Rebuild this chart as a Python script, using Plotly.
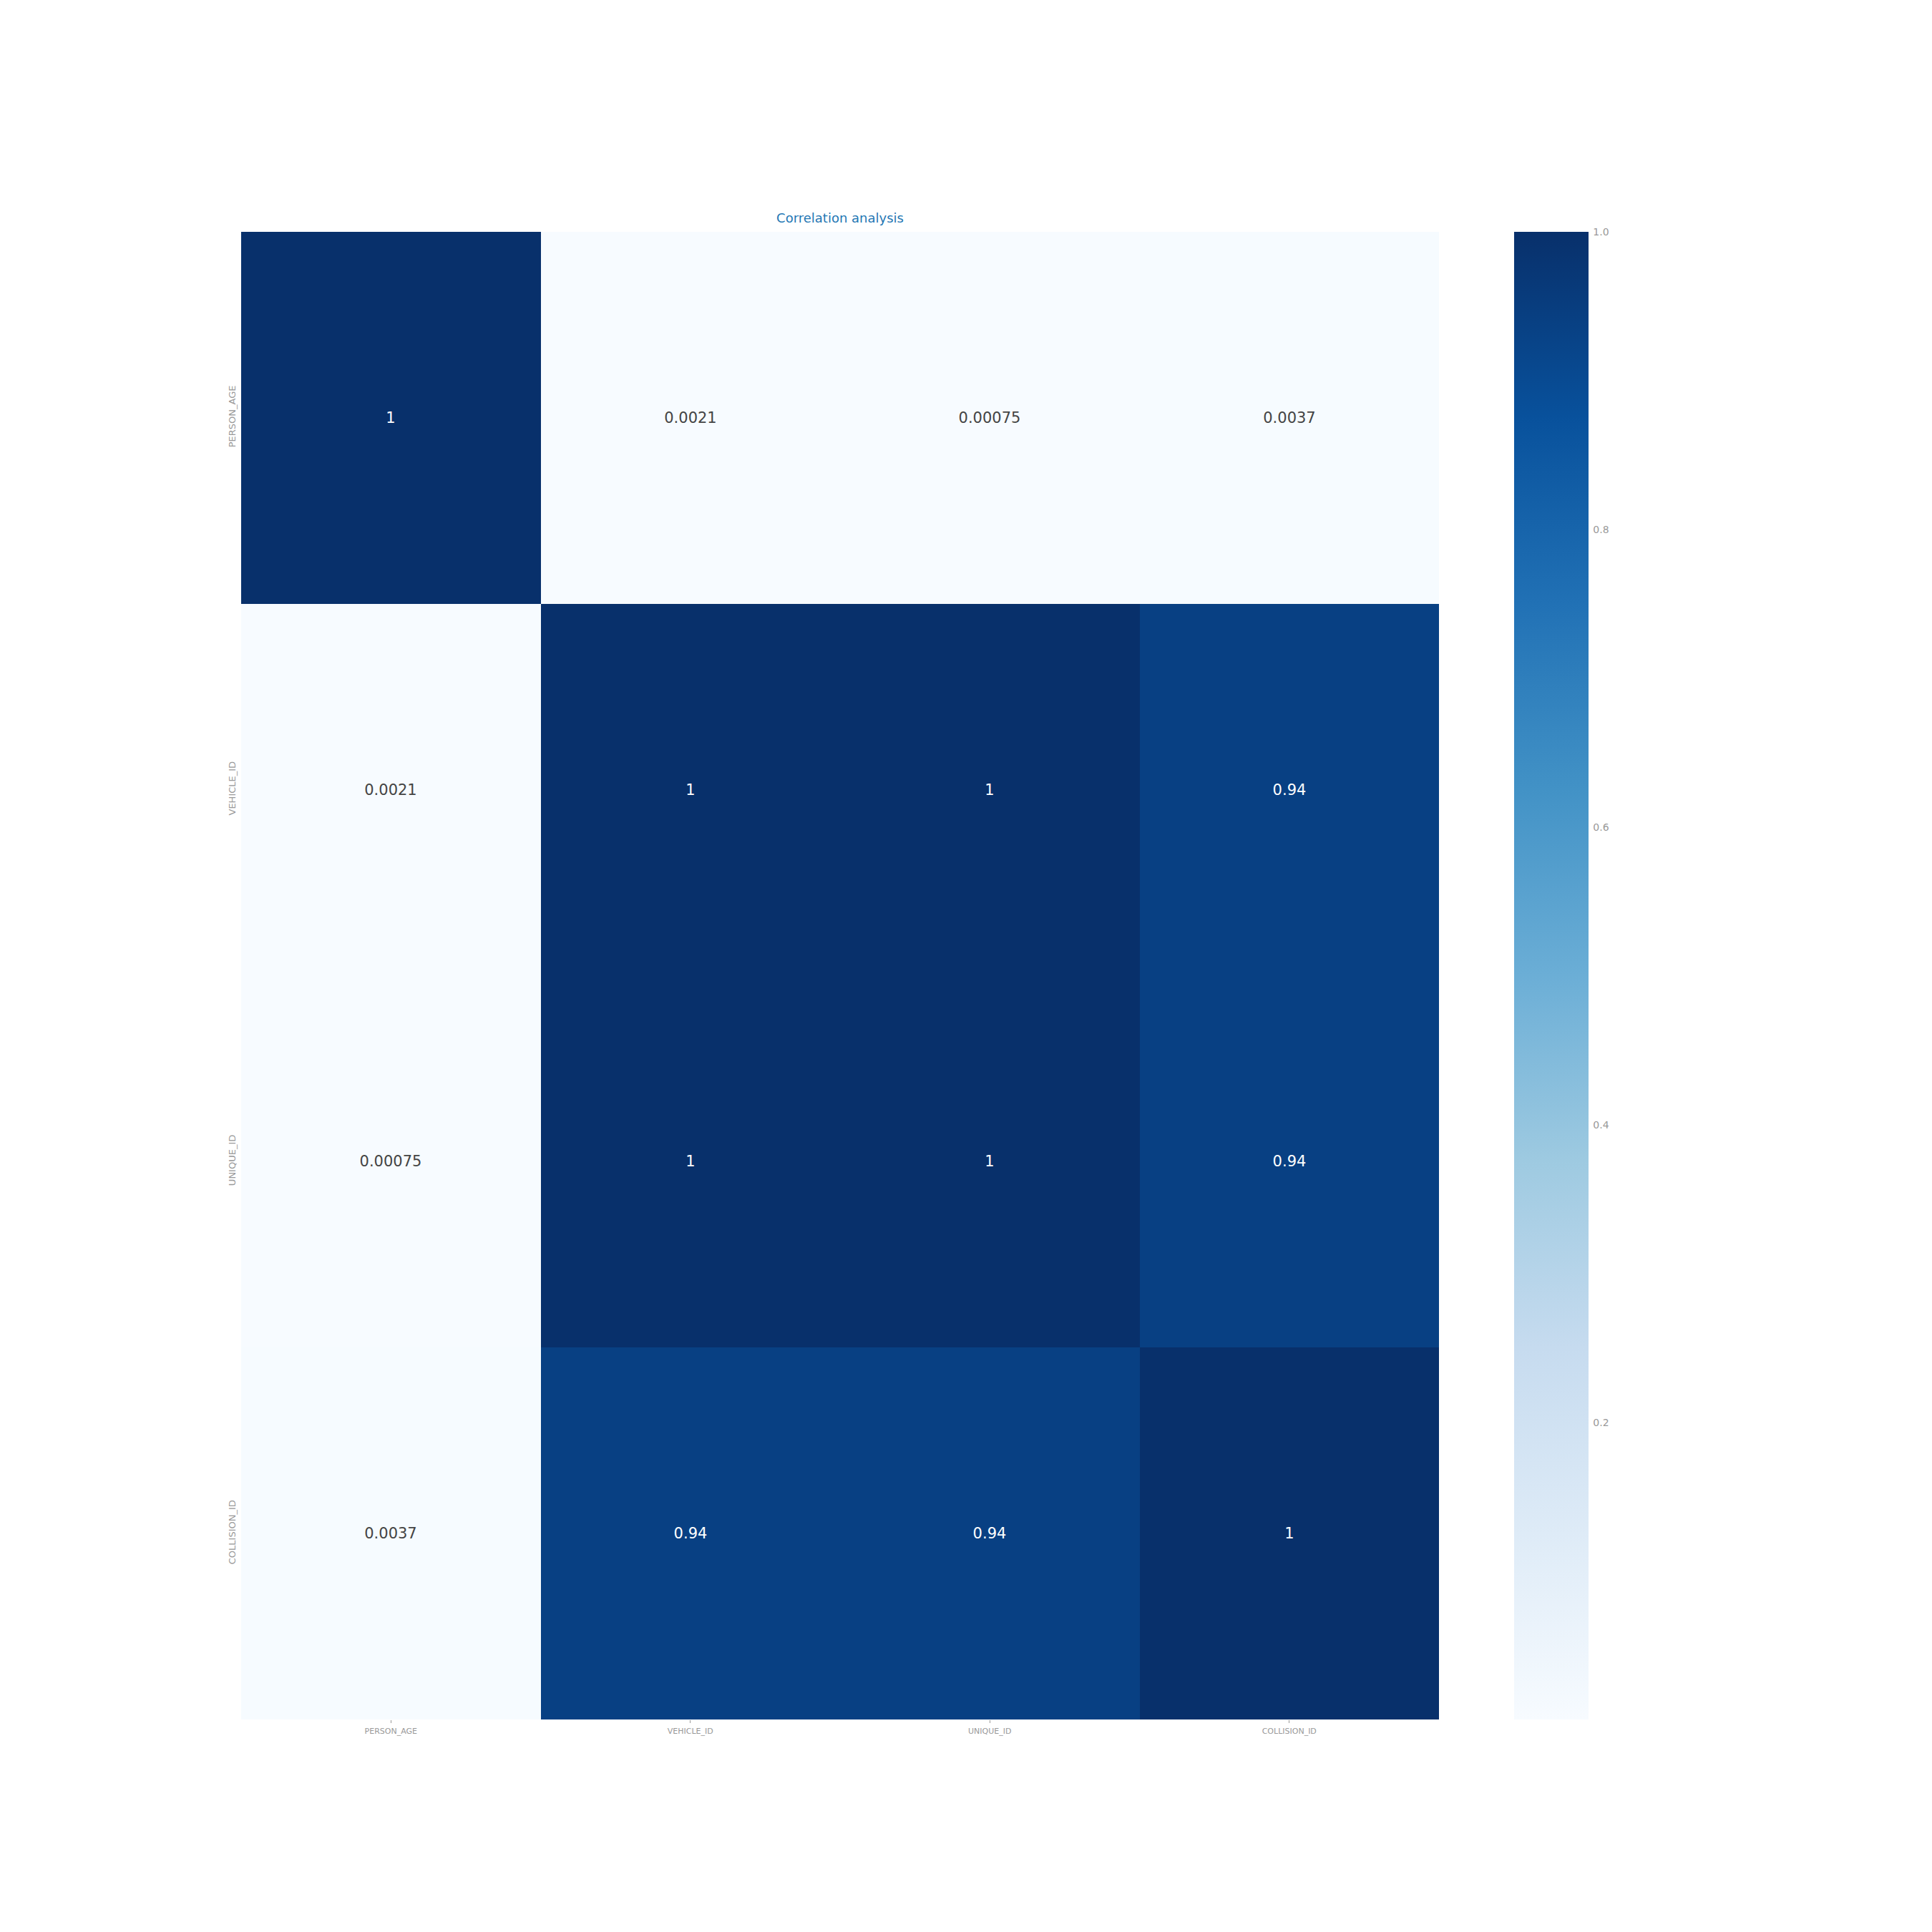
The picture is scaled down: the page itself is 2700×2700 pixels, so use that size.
import plotly.graph_objects as go

labels = ["PERSON_AGE", "VEHICLE_ID", "UNIQUE_ID", "COLLISION_ID"]
row_person_age = [1, 0.0021, 0.00075, 0.0037]
row_vehicle_id = [0.0021, 1, 1, 0.94]
row_unique_id = [0.00075, 1, 1, 0.94]
row_collision_id = [0.0037, 0.94, 0.94, 1]
z = [row_person_age, row_vehicle_id, row_unique_id, row_collision_id]
cbar_ticks = [0.2, 0.4, 0.6, 0.8, 1.0]

W = H = 2700
L, R, T, B = 337, 689, 324, 297
plot_w = W - L - R

fig = go.Figure(go.Heatmap(
    z=z, x=labels, y=labels,
    colorscale="Blues",
    zmin=min(min(r) for r in z), zmax=1,
    texttemplate="%{z:.2~g}",
    textfont=dict(size=21, family="DejaVu Sans"),
    xgap=0, ygap=0,
    colorbar=dict(
        x=(2116 - L) / plot_w, xanchor="left", xref="paper", xpad=0, ypad=0,
        y=1, yanchor="top", len=1, lenmode="fraction",
        thickness=104, thicknessmode="pixels",
        outlinewidth=0,
        tickvals=cbar_ticks, ticktext=[f"{v:.1f}" for v in cbar_ticks],
        ticks="outside", ticklen=4, tickcolor="rgba(0,0,0,0)",
        tickfont=dict(size=14, color="#999999", family="DejaVu Sans"),
    ),
))

fig.update_layout(
    width=W, height=H,
    margin=dict(l=L, r=R, t=T, b=B),
    paper_bgcolor="white", plot_bgcolor="white",
    font=dict(family="DejaVu Sans"),
    title=dict(text="Correlation analysis", x=(L + plot_w / 2) / W, xanchor="center",
               y=1 - 305 / H, yanchor="middle",
               font=dict(size=18, color="#1f77b4", family="DejaVu Sans")),
)
fig.update_xaxes(showgrid=False, zeroline=False, ticks="outside", ticklen=4, tickcolor="#999999",
                 tickfont=dict(size=11, color="#999999", family="DejaVu Sans"),
                 tickangle=0, ticklabelstandoff=2)
fig.update_yaxes(showgrid=False, zeroline=False, autorange="reversed", ticks="",
                 tickfont=dict(size=13, color="#999999", family="DejaVu Sans"),
                 tickangle=-90, ticklabelstandoff=4)

fig.write_html("out.html")
